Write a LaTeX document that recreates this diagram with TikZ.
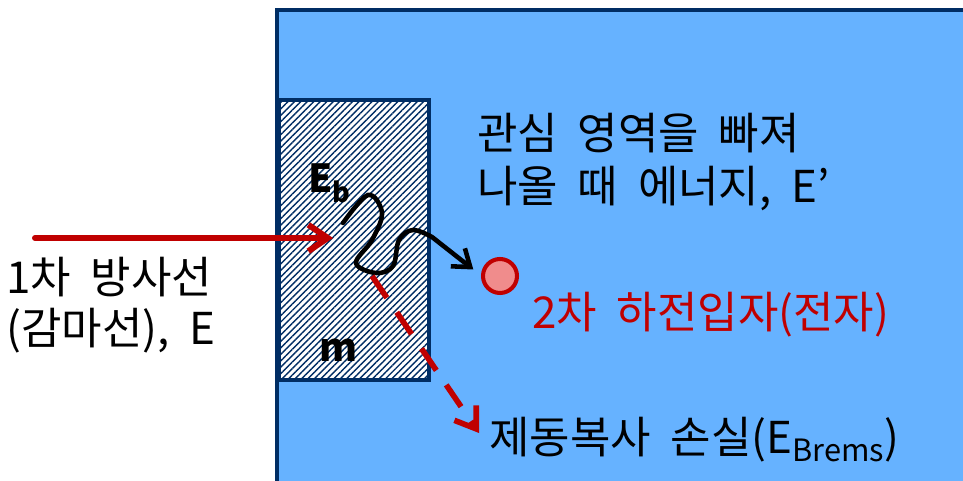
\documentclass[tikz,border=0pt]{standalone}
\usepackage{fontspec}
\setmainfont{Noto Sans CJK KR}
\usetikzlibrary{arrows.meta,patterns.meta,positioning}
\definecolor{roiblue}{RGB}{102,178,255}
\definecolor{navy}{RGB}{0,45,100}
\definecolor{dkred}{RGB}{192,0,0}
\definecolor{pinkfill}{RGB}{240,140,140}
\newcommand\widesp{\spaceskip=0.45em\relax}

\begin{document}
\begin{tikzpicture}[x=0.02cm, y=0.02cm,
  lbl/.style={font=\fontsize{25}{29}\selectfont\widesp, align=left, inner sep=0pt},
  sym/.style={font=\fontsize{22}{24}\selectfont\bfseries, inner sep=0pt},
  matbox/.style={rectangle, draw=navy, line width=2.3pt, preaction={fill=white},
                 pattern={Lines[angle=45, distance=2.6pt, line width=0.8pt]}, pattern color=navy,
                 minimum width=3cm, minimum height=5.6cm, inner sep=0pt},
  partcl/.style={circle, draw=dkred, line width=2.3pt, fill=pinkfill, minimum size=0.68cm, inner sep=0pt},
  redarr/.style={-{Straight Barb[length=11pt, width=15pt]}, dkred, line width=3.4pt, line cap=round},
  bremarr/.style={-{Straight Barb[length=11pt, width=15pt]}, dkred, line width=3.2pt, dash pattern=on 15pt off 10pt},
  pathline/.style={-{Straight Barb[length=9pt, width=13pt]}, black, line width=2.6pt, line cap=round}
]
\useasboundingbox (0,0) rectangle (963,480);
\clip (0,0) rectangle (963,480);

% region of interest
\draw[draw=navy, line width=2.3pt, fill=roiblue] (277,-20) rectangle (1000,470);

% material
\node[matbox] (mat) at (354,240) {};
\node[sym, anchor=base west] (eb) at (308,287) {E\textsubscript{b}};
\node[sym] (m) at (339,130) {m};

% secondary electron
\node[partcl] (sec) at (500,204) {};

% incoming gamma
\coordinate (src) at (35,242);
\coordinate (hit) at (333,242);
\draw[redarr] (src) -- (hit);

% electron track
\coordinate (trk) at (343,257);
\draw[pathline] plot[smooth, tension=0.6] coordinates {(trk) (368,285) (382,267) (372,240) (356,217) (376,207) (393,214) (399,240) (413,250) (432,243)}
  -- ([xshift=-5]sec.160);

% bremsstrahlung
\coordinate (bs) at (372,204);
\coordinate (bt) at (479,47);
\draw[bremarr] (bs) -- (bt);

% labels
\node[lbl, anchor=west] (prim) at (6,175) {1차 방사선\\(감마선), E};
\node[lbl, anchor=west, font=\fontsize{25}{30.5}\selectfont\widesp] (exit) at (477,318) {관심 영역을 빠져\\나올 때 에너지, E’};
\node[lbl, anchor=west, text=dkred] (seclbl) at (532,165) {2차 하전입자(전자)};
\node[lbl, anchor=west] (brem) at (489,40) {제동복사 손실(E\textsubscript{Brems})};
\end{tikzpicture}
\end{document}
